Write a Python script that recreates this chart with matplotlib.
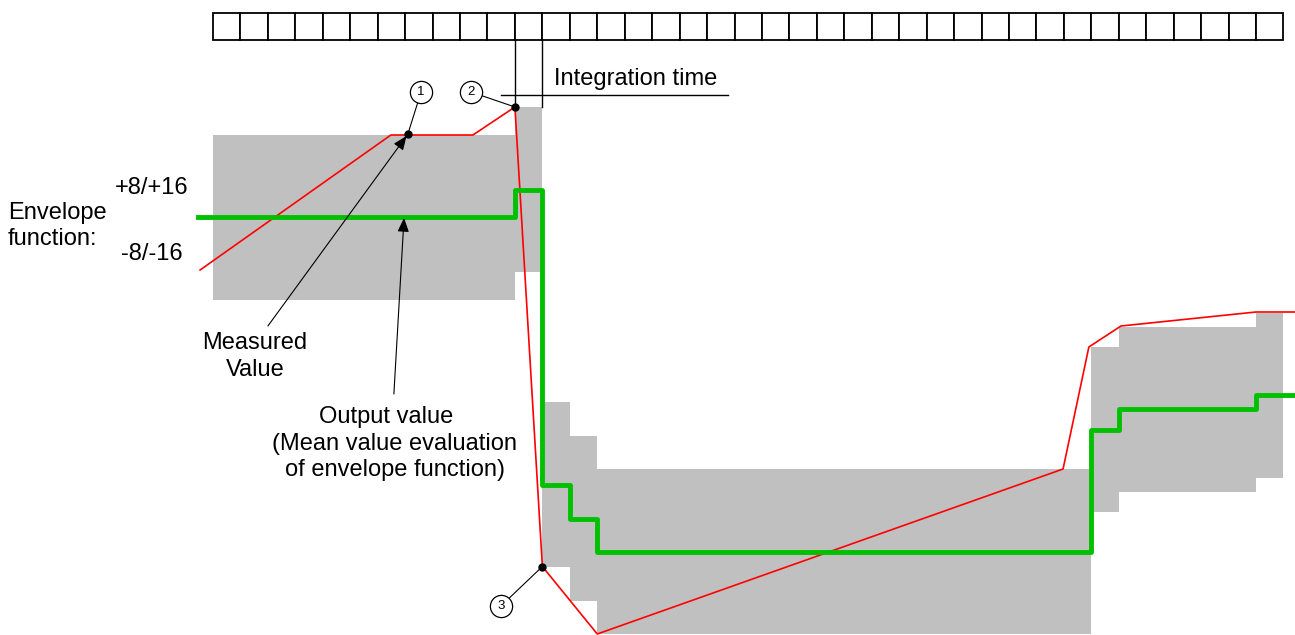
import matplotlib.pyplot as plt
import numpy as np

plt.rcParams['font.family'] = ['Liberation Sans', 'DejaVu Sans']

# time axis in sampling cells, level axis in arbitrary signal units
n_cells = 39
window_edges = [0, 11, 12, 13, 14, 32, 33, 38, 39]
output_values = [418, 445.5, 150.5, 116.5, 83.5, 205.5, 226, 240]   # mean of envelope per window
envelope_half = 82.5                                                  # +8/+16 .. -8/-16

measured_t = [-0.47, 6.48, 9.47, 11.0, 12.0, 14.0, 30.97, 31.91, 33.08, 38.0, 39.42]
measured_v = [365, 500, 500, 528, 68.5, 1, 166, 288, 309, 323, 323]

output_start, output_end = -0.55, 39.42

# numbered markers: (label, circle position, point on the measured curve)
callouts = [("1", (7.58, 543), (7.10, 501)),
            ("2", (9.40, 543), (11.0, 528)),
            ("3", (10.49, 29), (12.0, 68.5))]

fig = plt.figure(figsize=(12.95, 6.35), dpi=100)
ax = fig.add_axes([0, 0, 1, 1])
ax.set_xlim(-7.76, 39.42)
ax.set_ylim(0, 635)
ax.axis('off')

fs = 17

# sampling cells strip at the top
ax.bar(np.arange(n_cells), 27, bottom=595.5, width=1, align='edge',
       facecolor='white', edgecolor='black', linewidth=1.3, zorder=2)

# envelope blocks
left = np.array(window_edges[:-1])
widths = np.diff(window_edges)
centers = np.array(output_values)
ax.bar(left, 2 * envelope_half, bottom=centers - envelope_half, width=widths,
       align='edge', color='#c0c0c0', linewidth=0, zorder=1)

# measured value
ax.plot(measured_t, measured_v, color='#ff0000', lw=1.2, zorder=3)

# output value (steps)
step_x = [output_start] + window_edges[1:-1] + [output_end]
step_y = output_values + [output_values[-1]]
ax.plot(step_x, step_y, drawstyle='steps-post', color='#00c000', lw=3.5, zorder=4)

# integration time marker
t_int = window_edges[1], window_edges[2]
ax.plot([t_int[0], t_int[0]], [595.5, 528], color='black', lw=1.0, zorder=5)
ax.plot([t_int[1], t_int[1]], [595.5, 528], color='black', lw=1.0, zorder=5)
ax.plot([10.49, 18.76], [540, 540], color='black', lw=1.0, zorder=5)
ax.text(12.42, 550, "Integration time", fontsize=fs, ha='left', va='baseline')

# numbered callouts
for lab, (cx, cy), (px, py) in callouts:
    ax.plot([cx, px], [cy, py], color='black', lw=0.8, zorder=6)
    ax.plot(px, py, 'o', color='black', ms=5, zorder=7)
    ax.plot(cx, cy, 'o', mfc='white', mec='black', mew=0.9, ms=16, zorder=8)
    ax.text(cx, cy, lab, fontsize=9.5, ha='center', va='center', zorder=9)

# labels on the left
ax.text(-2.22, 441.5, "+8/+16", fontsize=fs, ha='center', va='baseline')
ax.text(-2.22, 375, "-8/-16", fontsize=fs, ha='center', va='baseline')
ax.text(-7.47, 416, "Envelope", fontsize=fs, ha='left', va='baseline')
ax.text(-7.47, 390, "function:", fontsize=fs, ha='left', va='baseline')

# annotations with arrows
arrow = dict(arrowstyle='-|>,head_length=0.6,head_width=0.25', lw=0.8,
             mutation_scale=14, color='black', shrinkA=0, shrinkB=0)
ax.annotate("", xy=(7.05, 499), xytext=(2.0, 309), arrowprops=arrow, zorder=6)
ax.annotate("", xy=(6.96, 417), xytext=(6.59, 241), arrowprops=arrow, zorder=6)

ax.text(1.53, 286, "Measured", fontsize=fs, ha='center', va='baseline')
ax.text(1.53, 259, "Value", fontsize=fs, ha='center', va='baseline')

ax.text(6.30, 212, "Output value", fontsize=fs, ha='center', va='baseline')
ax.text(6.63, 185.3, "(Mean value evaluation", fontsize=fs, ha='center', va='baseline')
ax.text(6.63, 158.6, "of envelope function)", fontsize=fs, ha='center', va='baseline')

fig.savefig('out.png', dpi=100)
